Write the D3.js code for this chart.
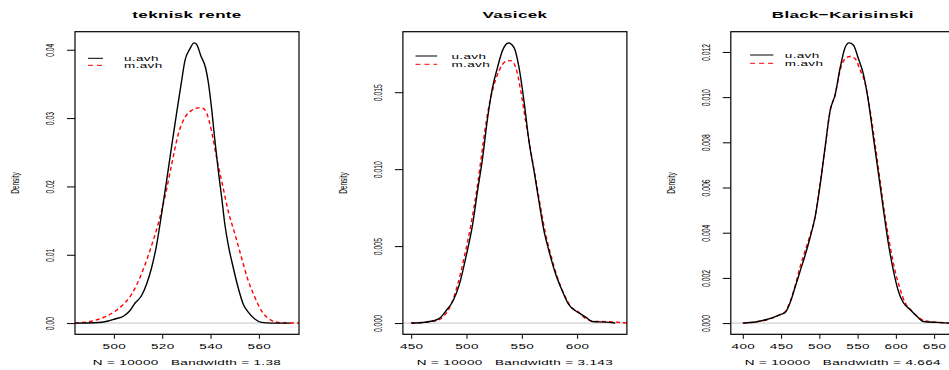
<!DOCTYPE html>
<html>
<head>
<meta charset="UTF-8">
<style>
  body { margin: 0; background: #fff; }
  svg text { font-family: "Liberation Sans", Arial, sans-serif; fill: #000; }
  .axis path.domain { display: none; }
  .axis line { stroke: #000; stroke-width: 1; }
  .wide { letter-spacing: 0.35px; }
</style>
</head>
<body>
<script src="https://cdn.jsdelivr.net/npm/d3@7"></script>
<script>
// titles and sub-titles
var titles = ["teknisk rente", "Vasicek", "Black\u2212Karisinski"];
var nObs = 10000;
var bandwidths = ["1.38", "3.143", "4.664"];
var seriesNames = ["u.avh", "m.avh"];

// axis limits (as R set them) and tick marks
var xLims = [[483.9, 576.6], [442.5, 645], [384.3, 677]];
var yLims = [[-0.00164, 0.04264], [-0.00073, 0.01893], [-0.000496, 0.012896]];
var xTicks = [[500, 520, 540, 560], [450, 500, 550, 600], [400, 450, 500, 550, 600, 650]];
var yTicks = [[0, 0.01, 0.02, 0.03, 0.04], [0, 0.005, 0.010, 0.015], [0, 0.002, 0.004, 0.006, 0.008, 0.010, 0.012]];
var yTickLabels = [["0.00", "0.01", "0.02", "0.03", "0.04"],
                   ["0.000", "0.005", "0.010", "0.015"],
                   ["0.000", "0.002", "0.004", "0.006", "0.008", "0.010", "0.012"]];

// density curves: [x, density]
var renteU = [[484,0],[492.1,0.00005],[497.7,0.0003],[500.4,0.0006],[503.9,0.001],[506.6,0.0018],[508.7,0.0029],
  [511.4,0.004],[513.5,0.0057],[515.6,0.0081],[517.7,0.0115],[519.7,0.0159],[521.8,0.0208],[523.9,0.0259],
  [525.9,0.0306],[528,0.0354],[529.4,0.0384],[531.4,0.0401],[533.2,0.041],[534.2,0.0408],[536,0.0391],
  [537.9,0.0374],[539,0.0354],[540.4,0.0315],[541.8,0.0267],[543.2,0.0223],[544.6,0.0184],[545.9,0.0145],
  [547.3,0.0115],[549.4,0.0081],[551.4,0.0052],[553.5,0.0028],[555.6,0.0016],[558.3,0.0006],[561.1,0.0001],
  [565.2,0],[573,0]];
var renteM = [[483.9,0],[489.4,0.0002],[494.9,0.0007],[499,0.0014],[503.2,0.0025],[507.3,0.0042],[511.4,0.0072],
  [514.9,0.0106],[518.3,0.0145],[521.1,0.0184],[523.9,0.0232],[526.6,0.0276],[529.4,0.0301],[532.1,0.0311],
  [534.9,0.0315],[537,0.0314],[538.3,0.0308],[540.4,0.0281],[542.5,0.0242],[544.6,0.0208],[547.3,0.0164],
  [550.1,0.013],[552.8,0.0096],[555.6,0.0062],[558.3,0.0038],[561.1,0.0018],[565.2,0.0004],[569.4,0.00005],
  [577,0]];
var vasicekU = [[450,0],[460.5,0.00004],[472.5,0.0002],[477,0.0004],[481.5,0.0008],[487.5,0.0014],[493.5,0.0025],
  [499.5,0.0043],[505.5,0.0064],[510,0.0086],[514.5,0.0107],[519,0.0133],[523.5,0.0153],[528,0.0166],
  [532.5,0.0177],[537.9,0.0182],[543,0.0179],[547.5,0.0166],[552,0.0144],[556.5,0.0118],[561,0.0099],
  [565.5,0.0079],[570,0.006],[574.5,0.0047],[580.5,0.0032],[586.5,0.0021],[592.5,0.0012],[598.5,0.0008],
  [603,0.0006],[607.5,0.0004],[613.5,0.0001],[625.5,0.00006],[634.5,0]];
var vasicekM = [[450,0],[472.5,0.00015],[480,0.0005],[486,0.0012],[492,0.0025],[498,0.0043],[504,0.0064],
  [510,0.009],[514.5,0.0114],[519,0.0136],[523.5,0.0151],[529.5,0.0164],[535.5,0.017],[540,0.01705],
  [544.5,0.0166],[549,0.0151],[553.5,0.0131],[558,0.0112],[562.5,0.0094],[567,0.0075],[571.5,0.0058],
  [576,0.0045],[582,0.003],[588,0.0019],[594,0.0011],[601.5,0.0007],[607.5,0.0003],[616.5,0.0001],
  [622.5,0.0001],[645,0]];
var bkU = [[400,0],[418.3,0.00006],[431.4,0.00016],[440,0.00025],[448.8,0.00037],[455.3,0.00047],[461.8,0.0009],
  [468.4,0.0016],[474.9,0.0023],[481.4,0.003],[488,0.0038],[494.5,0.0047],[501,0.0061],[507.6,0.0078],
  [514.1,0.0094],[520.6,0.0101],[527.2,0.0113],[533.7,0.0122],[538.9,0.0124],[544.6,0.0123],[551.1,0.0117],
  [557.7,0.011],[564.2,0.0098],[570.7,0.0082],[577.3,0.0066],[583.8,0.005],[590.3,0.0035],[596.9,0.0023],
  [603.4,0.0014],[609.9,0.0009],[618.6,0.0006],[627.4,0.0003],[636.1,0.00007],[653.5,0.00003],[669.6,0]];
var bkM = [[400,0],[431.4,0.00015],[448.8,0.00037],[455.3,0.0005],[461.8,0.00096],[468.4,0.00165],[474.9,0.0025],
  [481.4,0.0032],[488,0.0039],[494.5,0.0047],[501,0.0062],[507.6,0.0078],[514.1,0.0094],[520.6,0.0101],
  [527.2,0.0112],[533.7,0.0117],[540.2,0.0118],[546.8,0.0117],[553.3,0.0112],[559.9,0.0106],[566.4,0.0094],
  [572.9,0.0079],[579.4,0.0063],[586,0.0047],[592.5,0.0034],[599,0.0023],[605.6,0.0015],[612.1,0.0009],
  [620.8,0.00054],[629.5,0.00025],[638.2,0.0001],[653.5,0.00004],[669.6,0]];

var curves = [[renteU, renteM], [vasicekU, vasicekM], [bkU, bkM]];

// layout
var W = 949, H = 370;
var cellW = 327.9, boxLeft = 75, boxW = 224, boxTop = 31.7, boxBottom = 334.3;
var legendDx = [[13, 28, 49], [12.6, 34.3, 48.6], [19.3, 42.6, 54]];
var legendY = [[58.3, 65.3], [56, 64.3], [55, 63.3]];
var sq = 0.6; // vertical squash of the picture

var svg = d3.select("body").append("svg")
    .attr("width", W)
    .attr("height", H);

titles.forEach(function(title, p) {
    var left = boxLeft + p * cellW;
    var x = d3.scaleLinear().domain(xLims[p]).range([left, left + boxW]);
    var y = d3.scaleLinear().domain(yLims[p]).range([boxBottom, boxTop]);
    var g = svg.append("g");

    g.append("clipPath").attr("id", "clip" + p)
      .append("rect")
        .attr("x", left).attr("y", boxTop)
        .attr("width", boxW).attr("height", boxBottom - boxTop);

    // grey zero line
    g.append("line")
        .attr("x1", left).attr("x2", left + boxW)
        .attr("y1", y(0)).attr("y2", y(0))
        .attr("stroke", "#c4c4c4").attr("stroke-width", 1);

    var line = d3.line()
        .x(function(d) { return x(d[0]); })
        .y(function(d) { return y(d[1]); })
        .curve(d3.curveMonotoneX);

    // m.avh then u.avh
    g.append("path")
        .datum(curves[p][1])
        .attr("clip-path", "url(#clip" + p + ")")
        .attr("d", line)
        .attr("fill", "none")
        .attr("stroke", "#ff0000")
        .attr("stroke-width", 1.4)
        .attr("stroke-dasharray", "4,3");
    g.append("path")
        .datum(curves[p][0])
        .attr("clip-path", "url(#clip" + p + ")")
        .attr("d", line)
        .attr("fill", "none")
        .attr("stroke", "#000")
        .attr("stroke-width", 1.4);

    // box
    g.append("rect")
        .attr("x", left).attr("y", boxTop)
        .attr("width", boxW).attr("height", boxBottom - boxTop)
        .attr("fill", "none").attr("stroke", "#000").attr("stroke-width", 1.2);

    // x axis
    var xa = g.append("g").attr("class", "axis")
        .attr("transform", "translate(0," + boxBottom + ")")
        .call(d3.axisBottom(x).tickValues(xTicks[p]).tickSize(4.5));
    xa.selectAll("text")
        .attr("y", null).attr("dy", null)
        .attr("class", "wide")
        .attr("transform", "translate(0,15) scale(1," + sq + ")")
        .style("font-size", "13.5px");

    // y axis
    var ya = g.append("g").attr("class", "axis")
        .attr("transform", "translate(" + left + ",0)")
        .call(d3.axisLeft(y).tickValues(yTicks[p]).tickSize(8)
            .tickFormat(function(d, i) { return yTickLabels[p][i]; }));
    ya.selectAll("text")
        .attr("x", null).attr("dy", null)
        .attr("text-anchor", "middle")
        .attr("transform", "translate(-21,0) rotate(-90) scale(0.62,1)")
        .style("font-size", "11px");

    // title
    g.append("text")
        .attr("transform", "translate(" + (left + boxW / 2) + ",18.3) scale(1,0.58)")
        .attr("text-anchor", "middle")
        .attr("class", "wide")
        .style("font-size", "17px")
        .style("font-weight", "bold")
        .text(title);

    // sub title
    g.append("text")
        .attr("transform", "translate(" + (left + boxW / 2) + ",365) scale(1," + sq + ")")
        .attr("text-anchor", "middle")
        .attr("class", "wide")
        .style("font-size", "13.5px")
        .style("white-space", "pre")
        .attr("xml:space", "preserve")
        .text("N = " + nObs + "   Bandwidth = " + bandwidths[p]);

    // y label
    g.append("text")
        .attr("transform", "translate(" + (left - 56) + "," + ((boxTop + boxBottom) / 2) + ") rotate(-90) scale(0.62,1)")
        .attr("text-anchor", "middle")
        .style("font-size", "10.5px")
        .text("Density");

    // legend
    var ld = legendDx[p];
    seriesNames.forEach(function(name, k) {
        var ly = legendY[p][k];
        g.append("line")
            .attr("x1", left + ld[0]).attr("x2", left + ld[1])
            .attr("y1", ly).attr("y2", ly)
            .attr("stroke", k == 0 ? "#000" : "#ff0000")
            .attr("stroke-width", 1)
            .attr("stroke-dasharray", k == 0 ? null : "5,4");
        g.append("text")
            .attr("transform", "translate(" + (left + ld[2]) + "," + (ly + 2.6) + ") scale(1," + sq + ")")
            .attr("class", "wide")
            .style("font-size", "13.5px")
            .text(name);
    });
});
</script>
</body>
</html>
